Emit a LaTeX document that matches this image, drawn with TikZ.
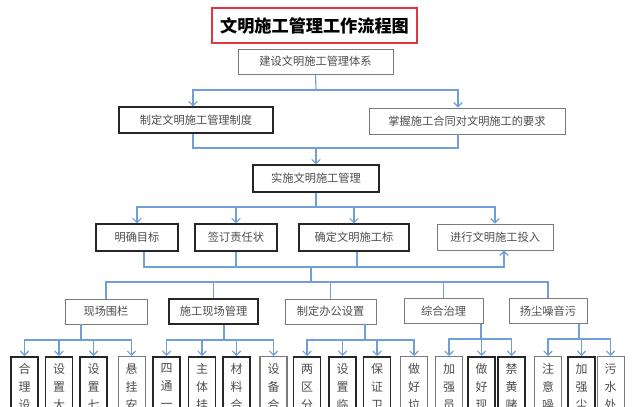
\documentclass[tikz,border=0pt]{standalone}
\usepackage{fontspec}
\setmainfont{Noto Sans CJK SC}
\usetikzlibrary{arrows.meta, positioning, calc}
\definecolor{linkblue}{HTML}{6F9FD8}
\definecolor{titlered}{HTML}{E5343B}
\definecolor{boxdk}{HTML}{262626}
\definecolor{boxlt}{HTML}{7A7A7A}
\definecolor{textgray}{HTML}{4D4D4D}
\newcommand{\colchars}[3]{\parbox[t][80pt][t]{12pt}{\centering\fontsize{8.5}{12.8}\selectfont #1\\#2\\#3}}

\tikzset{
  stage/.style={draw=boxdk, line width=0.9pt, minimum height=0.65cm, inner sep=0pt,
                text=textgray, font=\fontsize{8}{10}\selectfont},
  stagelt/.style={stage, draw=boxlt, line width=0.6pt},
  leaf/.style={minimum width=0.675cm, inner xsep=0pt, inner ysep=5pt, anchor=north, text=textgray},
  link/.style={draw=linkblue, line width=0.8pt},
  arr/.style={link, -{Straight Barb[length=3pt, width=6pt]}},
}

\begin{document}
\begin{tikzpicture}[x=0.025cm, y=-0.025cm]
  \useasboundingbox (0,0) rectangle (640,407);
  \clip (0,0) rectangle (640,407);

  \node[draw=titlered, line width=2pt, minimum width=5.125cm, minimum height=0.875cm,
        font=\bfseries\fontsize{12.2}{14}\selectfont] (title) at (314.5,25.5) {文明施工管理工作流程图};

  \node[stagelt, minimum width=3.875cm, minimum height=0.625cm] (tixi) at (315.5,61.5) {建设文明施工管理体系};
  \node[stage, minimum width=3.85cm] (zhidu) at (196,120) {制定文明施工管理制度};
  \node[stagelt, minimum width=4.9cm] (yaoqiu) at (467,121) {掌握施工合同对文明施工的要求};
  \node[stage, minimum width=3.15cm, minimum height=0.675cm] (shishi) at (316,178.5) {实施文明施工管理};

  \node[stage, minimum width=2.05cm, minimum height=0.675cm] (mubiao) at (137,237.5) {明确目标};
  \node[stage, minimum width=2.05cm, minimum height=0.675cm] (zeren) at (236,237.5) {签订责任状};
  \node[stage, minimum width=2.75cm, minimum height=0.675cm] (biaozhun) at (354,237.5) {确定文明施工标};
  \node[stagelt, minimum width=2.9cm, minimum height=0.65cm] (touru) at (495,237) {进行文明施工投入};

  \node[stagelt, minimum width=2.05cm, minimum height=0.625cm] (weilan) at (106,311.5) {现场围栏};
  \node[stage, minimum width=2.225cm, minimum height=0.625cm] (xianchang) at (213.5,311.5) {施工现场管理};
  \node[stagelt, minimum width=2.275cm, minimum height=0.625cm] (bangong) at (330.5,311.5) {制定办公设置};
  \node[stagelt, minimum width=1.975cm, minimum height=0.625cm] (zonghe) at (443.5,311) {综合治理};
  \node[stagelt, minimum width=1.95cm, minimum height=0.625cm] (yangchen) at (548,311) {扬尘噪音污};

  \foreach \nm/\x/\ca/\cb/\cc/\bc/\lw in {
      a1/24.5/合/理/设/boxdk/1.1, a2/59/设/置/大/boxdk/1.1, a3/93.5/设/置/七/boxdk/1.1, a4/131.5/悬/挂/安/boxlt/0.7,
      b1/166.5/四/通/一/boxdk/1.1, b2/202/主/体/挂/boxdk/1.1, b3/236.5/材/料/合/boxdk/1.1, b4/273.5/设/备/合/boxlt/0.9,
      c1/307/两/区/分/boxdk/1.1, c2/342.5/设/置/临/boxdk/1.1, c3/377/保/证/卫/boxdk/1.1, c4/414/做/好/垃/boxlt/0.9,
      d1/449/加/强/员/boxlt/0.7, d2/481.5/做/好/现/boxdk/1.1, d3/511.5/禁/黄/赌/boxdk/1.1,
      e1/548/注/意/噪/boxlt/0.7, e2/581.5/加/强/尘/boxdk/1.1, e3/610.5/污/水/处/boxlt/0.7}
    \node[leaf, draw=\bc, line width=\lw pt] (\nm) at (\x,356) {\colchars{\ca}{\cb}{\cc}};

  \coordinate (s1) at (316,90);
  \draw[link] (tixi.south) -- (s1);
  \draw[arr] (s1) -| ($(zhidu.north)+(-3,0)$);
  \draw[arr] (s1) -| ($(yaoqiu.north)+(-9,0)$);

  \coordinate (m2) at (316,148);
  \draw[link] ($(zhidu.south)+(-3,0)$) |- (m2) -| ($(yaoqiu.south)+(-9,0)$);
  \draw[arr] (m2) -- (shishi.north);

  \coordinate (s3) at (316,207);
  \draw[link] (shishi.south) -- (s3);
  \foreach \n in {mubiao,zeren,biaozhun,touru}
    \draw[arr] (s3) -| (\n.north);

  \coordinate (m4) at (311,267);
  \draw[link] ($(mubiao.south)+(7,0)$) |- (m4);
  \draw[link] (zeren.south) -- (zeren.south |- m4);
  \draw[link] ($(biaozhun.south)+(3,0)$) -- ($(biaozhun.south |- m4)+(3,0)$);
  \draw[arr] (m4) -| ($(touru.south)+(9,0)$);

  \coordinate (s5) at (311,282);
  \draw[link] (m4) -- (s5);
  \foreach \n in {weilan,xianchang,bangong,zonghe,yangchen}
    \draw[link] (s5) -| (\n.north);

  \coordinate (ga) at (81,340);
  \coordinate (gb) at (224,340);
  \coordinate (gc) at (365,340);
  \coordinate (gd) at (481,339);
  \coordinate (ge) at (579,339);
  \draw[link] (weilan.south -| ga) -- (ga);
  \draw[link] (xianchang.south -| gb) -- (gb);
  \draw[link] (bangong.south -| gc) -- (gc);
  \draw[link] (zonghe.south -| gd) -- (gd);
  \draw[link] (yangchen.south -| ge) -- (ge);
  \foreach \c in {a1,a2,a3,a4} \draw[arr] (ga) -| (\c.north);
  \foreach \c in {b1,b2,b3,b4} \draw[arr] (gb) -| (\c.north);
  \foreach \c in {c1,c2,c3,c4} \draw[arr] (gc) -| (\c.north);
  \foreach \c in {d1,d2,d3} \draw[arr] (gd) -| (\c.north);
  \foreach \c in {e1,e2,e3} \draw[arr] (ge) -| (\c.north);
\end{tikzpicture}
\end{document}
